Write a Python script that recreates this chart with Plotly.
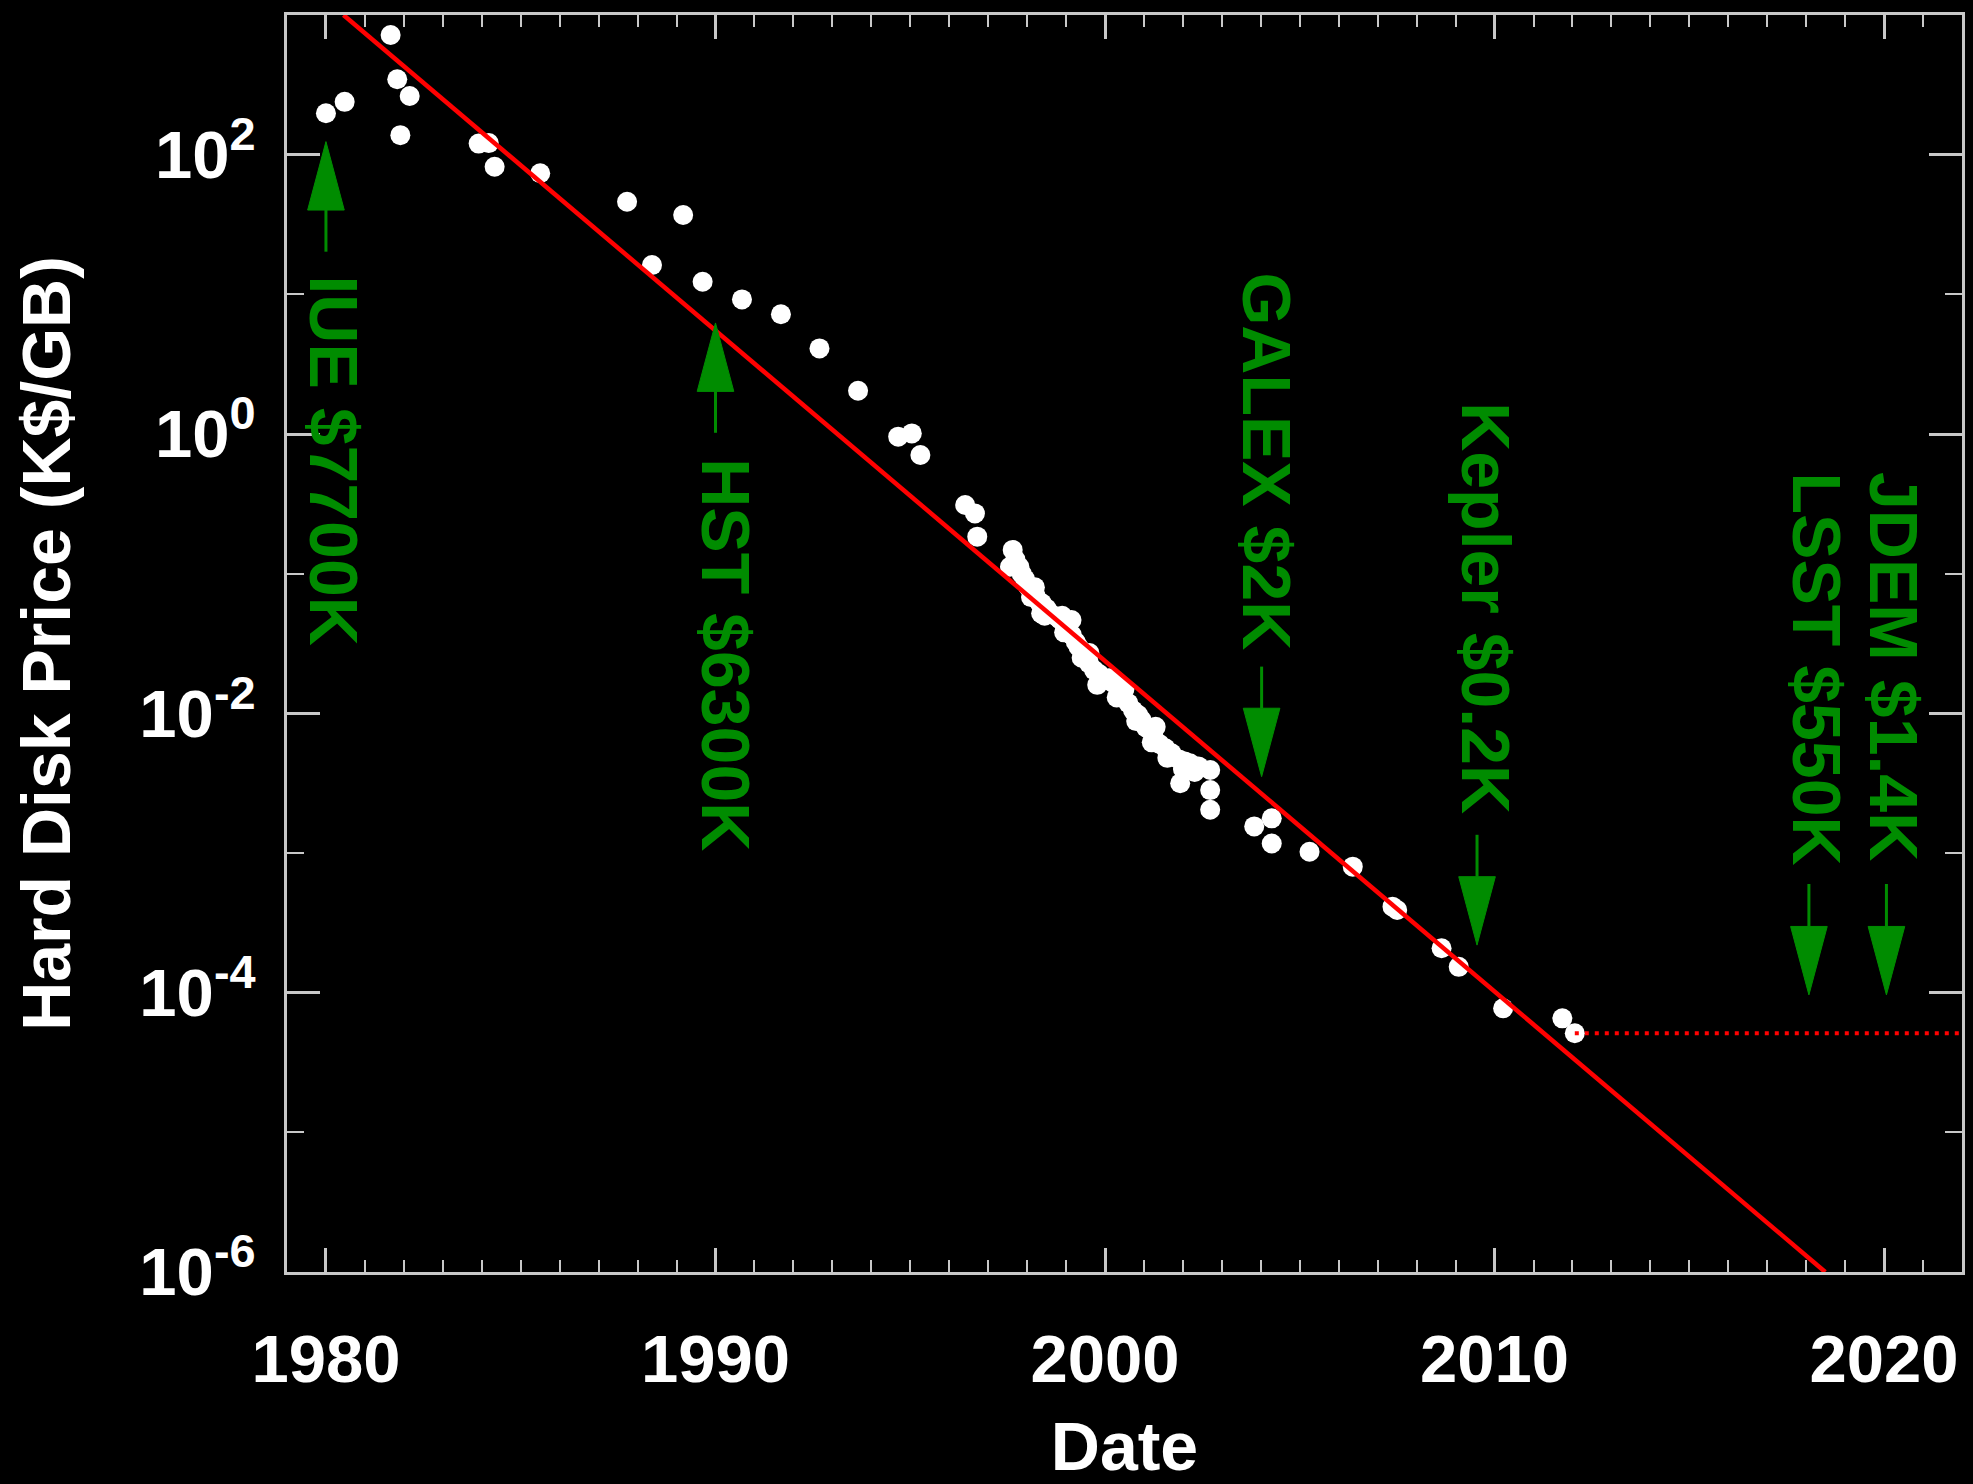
import math
import plotly.graph_objects as go

# Hard disk price history: date (decimal year) and price in K$ per GB
years = [
    1980.00, 1980.48, 1981.66, 1981.83, 1981.91, 1982.15, 1983.92, 1984.18, 1984.33, 1985.50,
    1987.73, 1988.37, 1989.17, 1989.67, 1990.68, 1991.68, 1992.67, 1993.66, 1994.69, 1995.04,
    1995.26, 1996.41, 1996.66, 1996.72,
    1997.63, 1997.56, 1997.70, 1997.80, 1997.86, 1997.95, 1998.03, 1998.12, 1998.22, 1998.30,
    1998.36, 1998.38, 1998.50, 1998.62, 1998.76, 1998.85, 1999.14, 1999.05, 1999.15, 1999.25,
    1999.32, 1999.45, 1999.59, 1999.72, 1999.85, 1999.96, 2000.10, 2000.20, 2000.34, 2000.45,
    2000.60, 2000.72, 2000.85, 2000.94, 2001.05, 2001.24, 2001.40, 2001.55, 2001.71, 2001.90,
    2001.93, 2002.05, 2002.18, 2002.40, 2002.70, 2002.70, 2002.70,
    1998.10, 1998.45, 1998.95, 1999.40, 1999.80, 2000.30, 2000.80, 2001.20, 2001.60, 2002.00,
    2002.30, 1998.20, 1998.90, 1999.60, 2000.50, 2001.30,
    2003.83, 2004.28, 2004.28, 2005.25, 2006.36, 2007.38, 2007.50, 2008.64, 2009.08, 2010.22,
    2011.74, 2012.06,
]
prices = [
    198, 239, 719, 347, 138, 263, 120, 121, 82, 73.6,
    46, 16.2, 37, 12.3, 9.2, 7.2, 4.1, 2.04, 0.957, 1.01,
    0.708, 0.31, 0.27, 0.184,
    0.148, 0.112, 0.126, 0.112, 0.100, 0.0912, 0.0807, 0.0741, 0.0692, 0.0631,
    0.052, 0.0614, 0.0562, 0.0513, 0.0492, 0.0468, 0.0466, 0.0398, 0.0363, 0.0324,
    0.0300, 0.0263, 0.0228, 0.0204, 0.0191, 0.0173, 0.0178, 0.0166, 0.0155, 0.0135,
    0.0118, 0.0105, 0.00977, 0.00895, 0.00794, 0.00681, 0.00603, 0.00562, 0.00518, 0.00468,
    0.00316, 0.00452, 0.00439, 0.00417, 0.00393, 0.00282, 0.00204,
    0.0680, 0.0500, 0.0380, 0.0250, 0.0160, 0.0130, 0.0088, 0.0062, 0.0048, 0.0040,
    0.0038, 0.0800, 0.0500, 0.0270, 0.0150, 0.0080,
    0.00155, 0.00177, 0.00117, 0.00102, 0.000798, 0.000413, 0.000391, 0.000208, 0.000153, 7.73e-5,
    6.55e-5, 5.12e-5,
]

# Exponential trend line (end points) and flat projection from the latest price
fit_years = [1980.45, 2018.49]
fit_prices = [1e3, 1e-6]
flat_years = [2012.06, 2022.0]
flat_prices = [5.12e-5, 5.12e-5]

# Mission storage costs: label, arrow date, arrow tip price, arrow tail price,
# label centre (date, price)
missions = ["IUE $7700K", "HST $6300K", "GALEX $2K", "Kepler $0.2K", "LSST $550K", "JDEM $1.4K"]
arrow_x = [1980.0, 1990.0, 2004.02, 2009.55, 2018.07, 2020.06]
arrow_tip = [124, 6.24, 3.52e-3, 2.19e-4, 9.64e-5, 9.64e-5]
arrow_tail = [20.2, 1.02, 0.0216, 1.35e-3, 6.0e-4, 6.0e-4]
label_x = [1980.22, 1990.25, 2004.16, 2009.76, 2018.28, 2020.27]
label_y = [0.652, 0.0264, 0.635, 0.0564, 0.0209, 0.0216]

x_ticks = [1980, 1990, 2000, 2010, 2020]
y_ticks = [1e-6, 1e-4, 1e-2, 1, 1e2]
y_ticktext = ["10<sup>-6</sup>", "10<sup>-4</sup>", "10<sup>-2</sup>", "10<sup>0</sup>", "10<sup>2</sup>"]
y_minor = [1e-5, 1e-3, 1e-1, 1e1]

GREEN = "rgb(0,140,0)"
RED = "rgb(255,0,0)"
AXIS = "rgb(200,200,200)"
FONT = "Liberation Sans"
HEAD_HALF_YEARS = 0.47   # half width of arrow heads, in years
HEAD_DECADES = 0.49      # length of arrow heads, in decades

fig = go.Figure()

fig.add_trace(go.Scatter(
    x=years, y=prices, mode="markers",
    marker=dict(symbol="circle", size=20, color="white", line=dict(width=0)),
    showlegend=False, hoverinfo="skip",
))
fig.add_trace(go.Scatter(
    x=fit_years, y=fit_prices, mode="lines",
    line=dict(color=RED, width=4.5), showlegend=False, hoverinfo="skip",
))
fig.add_trace(go.Scatter(
    x=flat_years, y=flat_prices, mode="lines",
    line=dict(color=RED, width=4, dash="4px,6px"), showlegend=False, hoverinfo="skip",
))

# Arrows: thin shaft plus a narrow filled head
for ax_, tip, tail in zip(arrow_x, arrow_tip, arrow_tail):
    sign = 1 if tip > tail else -1
    base = tip * 10 ** (-sign * HEAD_DECADES)
    fig.add_trace(go.Scatter(
        x=[ax_, ax_], y=[tail, base], mode="lines",
        line=dict(color=GREEN, width=3), showlegend=False, hoverinfo="skip",
    ))
    fig.add_trace(go.Scatter(
        x=[ax_ - HEAD_HALF_YEARS, ax_ + HEAD_HALF_YEARS, ax_, ax_ - HEAD_HALF_YEARS],
        y=[base, base, tip, base], mode="lines", fill="toself",
        fillcolor=GREEN, line=dict(color=GREEN, width=1),
        showlegend=False, hoverinfo="skip",
    ))

for name, lx, ly in zip(missions, label_x, label_y):
    fig.add_annotation(
        x=lx, y=math.log10(ly), xref="x", yref="y", text=name, textangle=90,
        showarrow=False, xanchor="center", yanchor="middle",
        font=dict(family=FONT, size=68, color=GREEN, weight="bold"),
    )

fig.update_layout(
    width=1973, height=1484,
    margin=dict(l=287, r=11, t=15, b=212),
    paper_bgcolor="black", plot_bgcolor="black",
    font=dict(family=FONT, color="white"),
    showlegend=False,
)
fig.update_xaxes(
    range=[1979, 2022], tickmode="array", tickvals=x_ticks, automargin=False,
    ticks="inside", ticklen=24, tickwidth=2.5, tickcolor=AXIS,
    minor=dict(tickmode="linear", tick0=1979, dtick=1, ticks="inside", ticklen=12,
               tickwidth=2, tickcolor=AXIS),
    showline=True, linecolor=AXIS, linewidth=3, mirror="ticks",
    showgrid=False, zeroline=False, ticklabelstandoff=27,
    tickfont=dict(family=FONT, size=67, color="white", weight="bold"),
    title=dict(text="Date", standoff=36,
               font=dict(family=FONT, size=68, color="white", weight="bold")),
)
fig.update_yaxes(
    type="log", range=[-6, 3], tickmode="array", tickvals=y_ticks, ticktext=y_ticktext,
    automargin=False,
    ticks="inside", ticklen=33, tickwidth=2.5, tickcolor=AXIS,
    minor=dict(tickmode="array", tickvals=y_minor, ticks="inside", ticklen=17,
               tickwidth=2, tickcolor=AXIS),
    showline=True, linecolor=AXIS, linewidth=3, mirror="ticks",
    showgrid=False, zeroline=False, ticklabelstandoff=15,
    tickfont=dict(family=FONT, size=67, color="white", weight="bold"),
    title=dict(text="Hard Disk Price (K$/GB)", standoff=47,
               font=dict(family=FONT, size=68, color="white", weight="bold")),
)

fig.write_html("out.html")
